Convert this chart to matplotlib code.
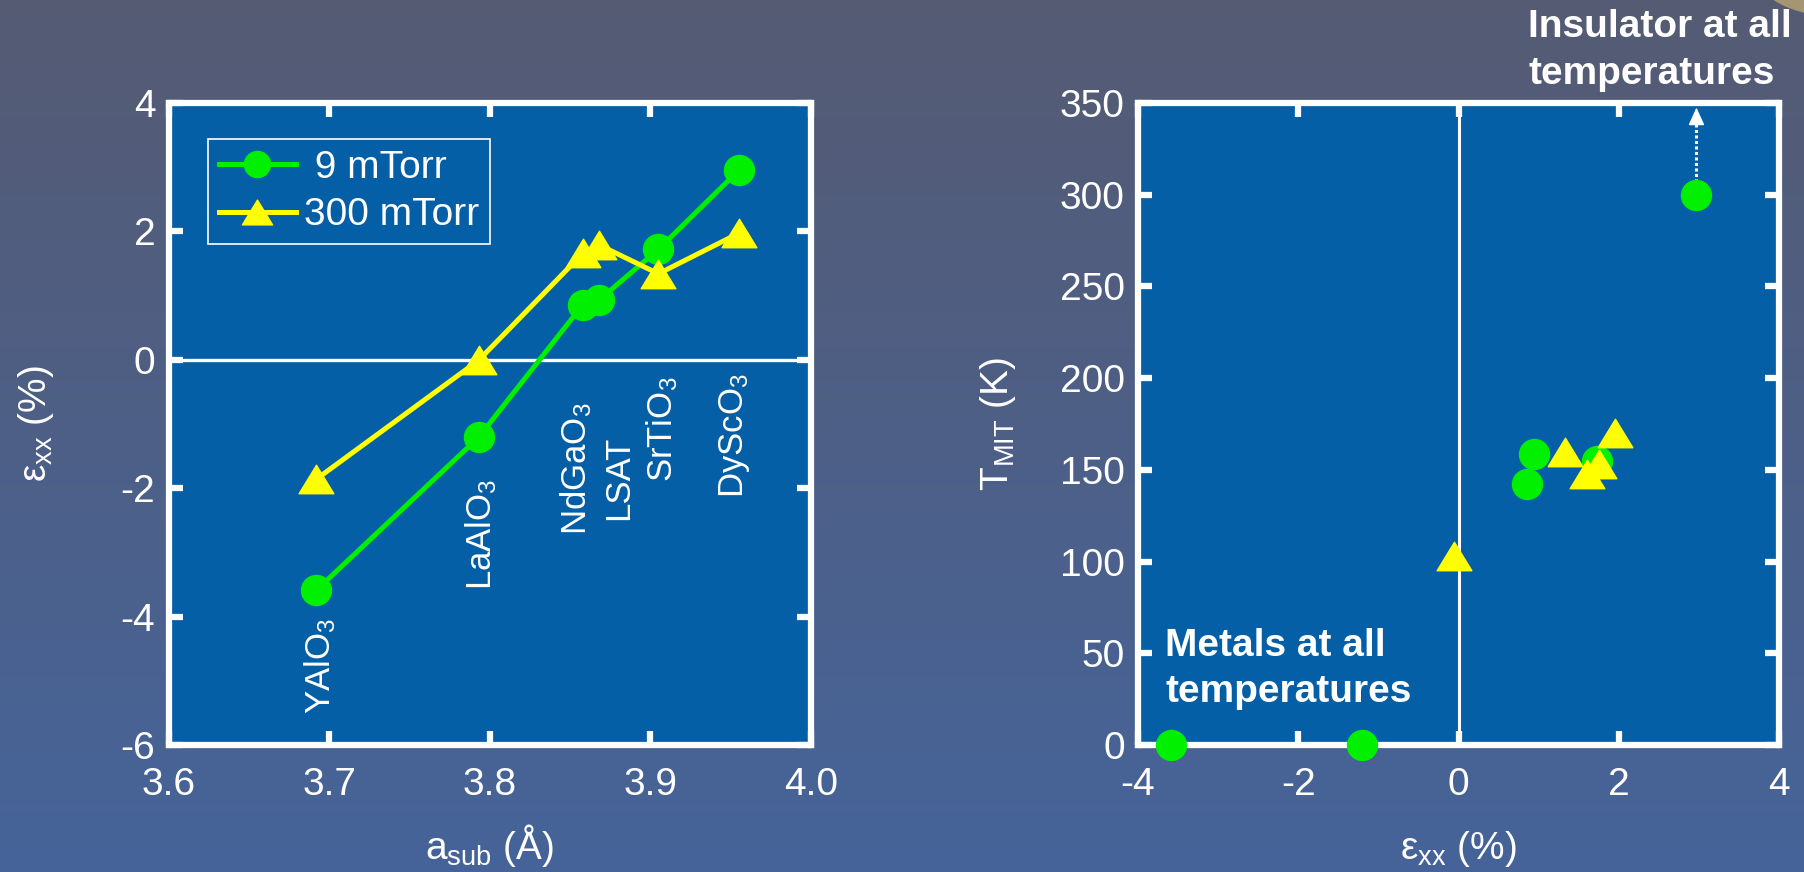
import numpy as np
import matplotlib
matplotlib.use('Agg')
import matplotlib.pyplot as plt
from matplotlib.path import Path
from matplotlib.ticker import FormatStrFormatter, MultipleLocator
from matplotlib.patches import Ellipse

plt.rcParams['font.family'] = ['Liberation Sans', 'DejaVu Sans']
plt.rcParams['mathtext.fontset'] = 'custom'
plt.rcParams['mathtext.rm'] = 'Liberation Sans'
plt.rcParams['mathtext.it'] = 'Liberation Sans'
plt.rcParams['mathtext.bf'] = 'Liberation Sans:bold'
plt.rcParams['axes.unicode_minus'] = False

# ---------------- data ----------------
substrates = ['YAlO$_3$', 'LaAlO$_3$', 'NdGaO$_3$', 'LSAT', 'SrTiO$_3$', 'DyScO$_3$']
a_sub = [3.692, 3.793, 3.858, 3.868, 3.905, 3.955]
exx_9mTorr = [-3.59, -1.21, 0.86, 0.93, 1.72, 2.95]
exx_300mTorr = [-1.86, -0.01, 1.66, 1.79, 1.34, 1.97]

# right panel: T_MIT vs strain
exx_green = [-3.59, -1.20, 0.86, 0.94, 1.73, 2.97]
T_green = [0, 0, 142.5, 158.7, 155, 300]
exx_yellow = [-0.06, 1.33, 1.60, 1.75, 1.95]
T_yellow = [103, 160, 148, 153, 170]

# rotated substrate label anchors (baseline start), layout only
label_anchor = [(3.7006, -5.51), (3.8012, -3.59), (3.8604, -2.73),
                (3.8863, -2.50), (3.9139, -1.90), (3.9579, -2.16)]

green = '#00f000'
yellow = '#ffff00'
face = '#045fa6'

W, H = 1804, 872
fig = plt.figure(figsize=(W / 100, H / 100), dpi=100)
fig.patch.set_facecolor('#4f5f86')

# background gradient drawn pixel-exact
grad = np.linspace(0, 1, H)[:, None, None]
top = np.array([0x55, 0x5b, 0x73]) / 255
bot = np.array([0x46, 0x64, 0x9a]) / 255
col = top + (bot - top) * grad
img = np.ascontiguousarray(np.broadcast_to(col, (H, W, 3)))
bgim = fig.figimage(img, xo=0, yo=0, origin='upper')
bgim.set_zorder(-10)
fig.add_artist(Ellipse((1840 / W, 1 + 28 / H), 170 / W, 90 / H,
                       color='#a39671', lw=0, transform=fig.transFigure,
                       zorder=-5))

tri = Path([(-1, -0.82), (1, -0.82), (0, 0.82), (-1, -0.82)],
           [Path.MOVETO, Path.LINETO, Path.LINETO, Path.CLOSEPOLY])

ax1 = fig.add_axes([168.5 / W, 1 - 745 / H, 642.5 / W, 642 / H])
ax2 = fig.add_axes([1138 / W, 1 - 745 / H, 641 / W, 642 / H])
for ax in (ax1, ax2):
    ax.set_facecolor(face)
    for s in ax.spines.values():
        s.set_color('white')
        s.set_linewidth(4.5)
    ax.tick_params(which='both', direction='in', length=10, width=4.5,
                   color='white', labelcolor='white', labelsize=28,
                   top=True, right=True)
    ax.tick_params(axis='x', pad=16)
    ax.tick_params(axis='y', pad=9.5)

# ---------------- left panel ----------------
ax1.set_xlim(3.6, 4.0)
ax1.set_ylim(-6, 4)
ax1.xaxis.set_major_locator(MultipleLocator(0.1))
ax1.xaxis.set_major_formatter(FormatStrFormatter('%.1f'))
ax1.yaxis.set_major_locator(MultipleLocator(2))
ax1.axhline(0, color='white', lw=2.4, zorder=1)
ax1.plot(a_sub, exx_9mTorr, '-', marker='o', color=green, lw=3.6, ms=21.6,
         label=' 9 mTorr', zorder=3)
ax1.plot(a_sub, exx_300mTorr, '-', marker=tri, color=yellow, lw=3.6, ms=25,
         label='300 mTorr', zorder=4)
for name, (xa, ya) in zip(substrates, label_anchor):
    ax1.text(xa, ya, name, rotation=90, rotation_mode='anchor', ha='left',
             va='baseline', color='white', fontsize=25)

leg = ax1.legend(loc='upper left',
                 bbox_to_anchor=((208 - 168.5) / 642.5, (745 - 139) / 642),
                 borderaxespad=0, frameon=True, fancybox=False,
                 edgecolor='white', facecolor=face, framealpha=1,
                 fontsize=28, labelcolor='white', handlelength=1.98,
                 handletextpad=0.2, borderpad=0.28, labelspacing=0.29,
                 markerscale=0.87)
leg.get_frame().set_linewidth(1.2)

ax1.set_xlabel(r'a$_{\mathregular{sub}}$ (Å)', color='white', fontsize=28)
ax1.set_ylabel(r'$\mathregular{ε_{xx}}$ (%)', color='white', fontsize=28)
ax1.xaxis.set_label_coords(0.5, -0.12)
ax1.yaxis.set_label_coords(-0.175, 0.5)

# ---------------- right panel ----------------
ax2.set_xlim(-4, 4)
ax2.set_ylim(0, 350)
ax2.xaxis.set_major_locator(MultipleLocator(2))
ax2.yaxis.set_major_locator(MultipleLocator(50))
ax2.axvline(0, color='white', lw=2.2, zorder=1)
ax2.plot(exx_green, T_green, ls='none', marker='o', color=green, ms=21.6,
         clip_on=False, zorder=5)
ax2.plot(exx_yellow, T_yellow, ls='none', marker=tri, color=yellow, ms=25,
         clip_on=False, zorder=6)

ax2.plot([exx_green[-1], exx_green[-1]], [307, 340], color='white', lw=2.2,
         ls=(0, (1, 0.8)), zorder=4)
ax2.annotate('', xy=(exx_green[-1], 347.5), xytext=(exx_green[-1], 339),
             arrowprops=dict(arrowstyle='-|>,head_length=0.55,head_width=0.25',
                             color='white', lw=1, shrinkA=0, shrinkB=0,
                             mutation_scale=20), annotation_clip=False)

ax2.text(-3.66, 64, 'Metals at all\ntemperatures', fontsize=28,
         fontweight='bold', color='white', ha='left', va='top', linespacing=1.38)
ax2.text(0.87, 401, 'Insulator at all\ntemperatures', fontsize=28,
         fontweight='bold', color='white', ha='left', va='top',
         linespacing=1.38, clip_on=False)

ax2.set_xlabel(r'$\mathregular{ε_{xx}}$ (%)', color='white', fontsize=28)
ax2.set_ylabel(r'T$_{\mathregular{MIT}}$ (K)', color='white', fontsize=28)
ax2.xaxis.set_label_coords(0.5, -0.131)
ax2.yaxis.set_label_coords(-0.187, 0.5)

fig.savefig('out.png', dpi=100, facecolor=fig.get_facecolor())
